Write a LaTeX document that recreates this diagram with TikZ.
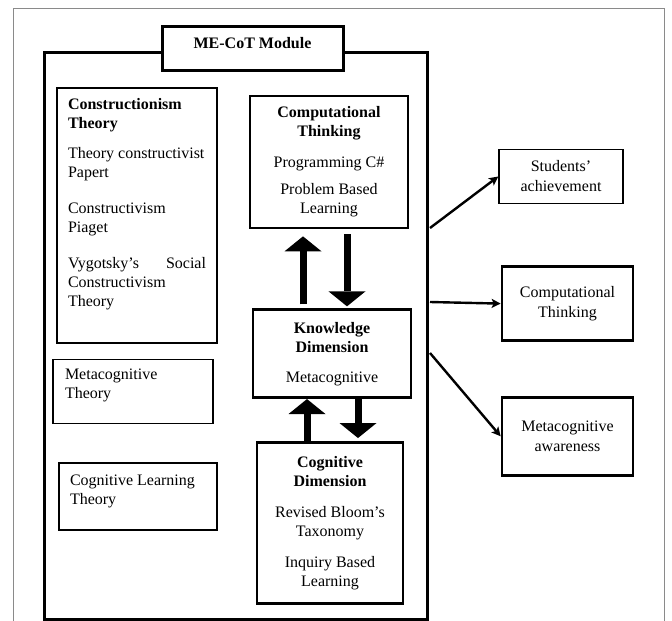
\documentclass[tikz,border=0pt]{standalone}
\usepackage{fontspec}
\setmainfont{Liberation Serif}
\usetikzlibrary{positioning,arrows.meta}
\definecolor{MCInk}{HTML}{000000}
\definecolor{MCFrame}{HTML}{8A8A8A}
\newcommand{\mcfont}{\fontsize{16pt}{19pt}\selectfont}
\tikzset{
  mcBase/.style={
    font=\mcfont,
    inner sep=0pt,
    draw=MCInk,
    fill=white,
    text=MCInk
  },
  mcModule/.style={
    draw=MCInk,
    line width=3pt,
    inner sep=0pt,
    minimum width=383pt,
    minimum height=567pt
  },
  mcTitle/.style={
    mcBase,
    line width=3pt,
    font=\mcfont\bfseries,
    text height=10pt,
    text depth=9pt,
    minimum width=181pt,
    minimum height=44pt
  },
  mcTheory/.style={
    mcBase,
    line width=1.6pt,
    inner xsep=11pt,
    inner ysep=10pt
  },
  mcCore/.style={
    mcBase,
    line width=2.7pt,
    align=center
  },
  mcOutcome/.style={
    mcBase,
    line width=2.7pt,
    align=center,
    font=\fontsize{16pt}{20pt}\selectfont
  },
  mcFrame/.style={
    draw=MCFrame,
    line width=1pt
  },
  mcArrow/.style={
    line width=2.4pt,
    -{Stealth[length=9pt,width=9pt,inset=2pt]}
  },
  mcBlock/.style={
    line width=7pt,
    -{Triangle[length=15pt,width=37pt,line width=0pt]}
  }
}

\begin{document}
\begin{tikzpicture}[x=1pt, y=-1pt, node distance=40pt]
  \useasboundingbox (0,0) rectangle (672,621);
  % page frame, open at the bottom
  \draw [mcFrame] (13,621) |- (664,8) -- (664,621);

  \node (module) [mcModule] at (235.5,335.5) {};
  \node (title) [mcTitle] at (252.5,48) {ME-CoT Module};

  % theories on the left
  \node (cons) [mcTheory] at (137,215.5) {%
    \parbox[c][235pt][t]{138pt}{\raggedright
      \textbf{Constructionism}\\\textbf{Theory}\par\vspace{11pt}
      Theory constructivist\\Papert\par\vspace{17pt}
      Constructivism\\Piaget\par\vspace{17pt}
      Vygotsky’s\hfill Social\\Constructivism\\Theory}};
  \node (metath) [mcTheory, inner xsep=12pt, inner ysep=9pt, below=15pt of cons, xshift=-4pt] {%
    \parbox[c][46pt][t]{136pt}{\raggedright Metacognitive\\Theory}};
  \node (coglearn) [mcTheory, inner ysep=12pt, below=38pt of metath, xshift=5pt] {%
    \parbox[c][43pt][t]{136pt}{\raggedright Cognitive Learning\\Theory}};

  % core of the module
  \node (comp) [mcCore, minimum width=158pt, minimum height=132pt] at (329,162) {
    \textbf{Computational}\\\textbf{Thinking}\\[12pt]
    Programming C\#\\[8pt]
    Problem Based\\Learning
  };
  \node (know) [mcCore, minimum width=158pt, minimum height=88pt, below=79pt of comp, xshift=3pt] {
    \textbf{Knowledge}\\\textbf{Dimension}\\[11pt]
    Metacognitive
  };
  \node (cog) [mcCore, minimum width=146pt, minimum height=161pt, below=42pt of know, xshift=-2pt] {
    \textbf{Cognitive}\\\textbf{Dimension}\\[12pt]
    Revised Bloom’s\\Taxonomy\\[12pt]
    Inquiry Based\\Learning
  };

  \draw [mcBlock, shorten <=4pt, shorten >=7pt] ([xshift=-29pt]know.north) -- ([xshift=-29pt]know.north |- comp.south);
  \draw [mcBlock, shorten <=5pt, shorten >=2pt] ([xshift=15pt]know.north |- comp.south) -- ([xshift=15pt]know.north);
  \draw [mcBlock] ([xshift=-23pt]cog.north) -- ([xshift=-23pt]cog.north |- know.south);
  \draw [mcBlock, shorten >=3pt] ([xshift=28pt]cog.north |- know.south) -- ([xshift=28pt]cog.north);

  % outcomes
  \node (ach) [mcOutcome, line width=1.5pt, minimum width=124pt, minimum height=54pt] at (561,176.5) {Students’\\achievement};
  \node (ct) [mcOutcome, minimum width=131pt, minimum height=74pt, below=61pt of ach, xshift=6.5pt] {Computational\\Thinking};
  \node (meta) [mcOutcome, minimum width=131pt, minimum height=78pt, below=54pt of ct] {Metacognitive\\awareness};

  \coordinate (o1) at (430,228);
  \coordinate (o2) at (430,302);
  \coordinate (o3) at (430,353);
  \draw [mcArrow] (o1) -- (ach.west);
  \draw [mcArrow] (o2) -- (ct.west);
  \draw [mcArrow] (o3) -- (meta.west);
\end{tikzpicture}
\end{document}
